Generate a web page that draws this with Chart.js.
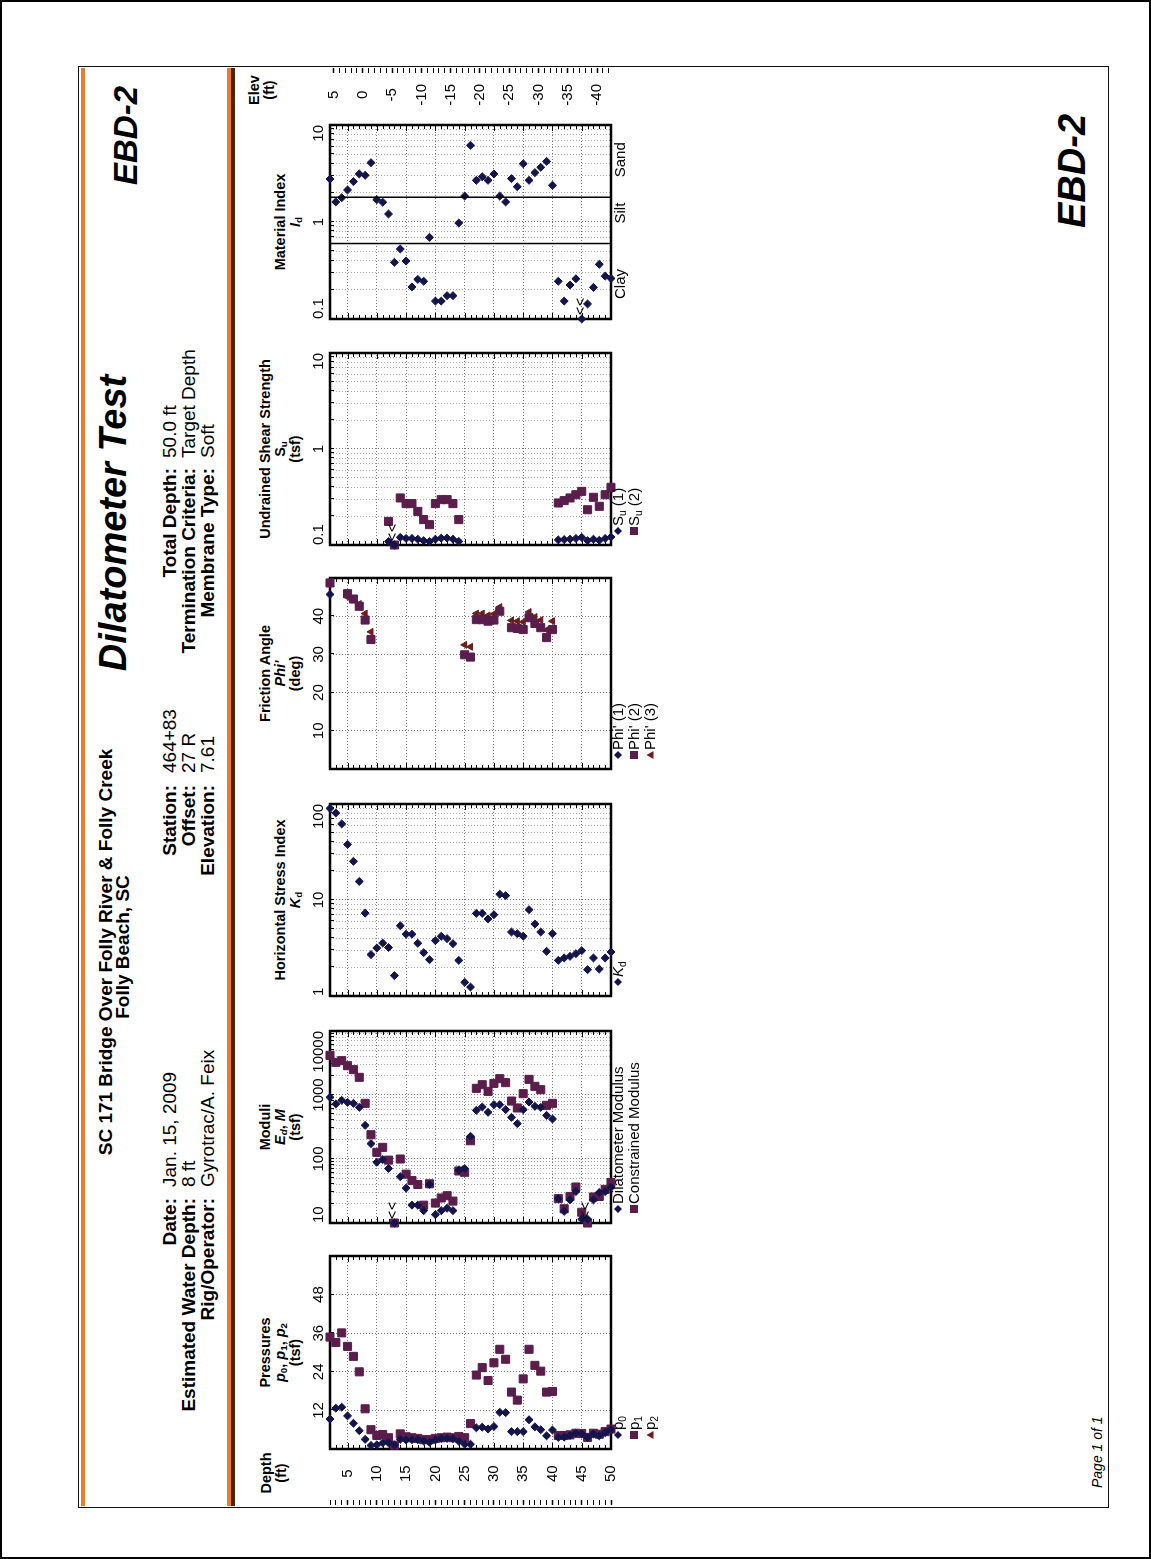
<!DOCTYPE html>
<html lang="en">
<head>
<meta charset="UTF-8">
<meta name="viewport" content="width=device-width, initial-scale=1.0">
<title>Dilatometer Test - EBD-2</title>
<script src="https://cdn.jsdelivr.net/npm/chart.js"></script>
<style>
  html, body { margin: 0; padding: 0; background: #fff; overflow: hidden; }
  body { width: 1151px; height: 1559px; position: relative;
         font-family: "Liberation Sans", Arial, Helvetica, sans-serif; color: #000; }
  /* the log sheet is laid out landscape, then turned a quarter turn like the print */
  #page { position: absolute; left: 0; top: 0; width: 1559px; height: 1151px; box-sizing: border-box;
          border: 2px solid #000; transform-origin: 0 0; transform: translateY(1559px) rotate(-90deg); }
  .t { position: absolute; white-space: nowrap; line-height: 1; }
  .lbl { font-size: 19px; font-weight: bold; text-align: right; width: 300px; }
  .val { font-size: 19px; }
  .ptitle { position: absolute; font-size: 14.5px; font-weight: bold; text-align: center; line-height: 15px; width: 260px; white-space: nowrap; }
  .legend { position: absolute; font-size: 15px; line-height: 16px; }
  .legend .row { position: relative; height: 16px; white-space: nowrap; padding-left: 10px; }
  .legend svg { position: absolute; left: 0; top: 3px; width: 10px; height: 10px; }
  sub { font-size: 0.68em; vertical-align: -0.25em; line-height: 0; }
  canvas { position: absolute; }
</style>
</head>
<body>
<div id="page">
  <!-- frame and coloured bands -->
  <div style="position:absolute;left:49px;top:76px;width:1440px;height:1029px;border:1.5px solid #111;"></div>
  <div style="position:absolute;left:51px;top:79px;width:1438px;height:4px;background:#ee7a30;"></div>
  <div style="position:absolute;left:51px;top:225px;width:1438px;height:4px;background:#ee7a30;"></div>
  <div style="position:absolute;left:51px;top:229px;width:1438px;height:4px;background:#4a2612;"></div>

  <!-- header -->
  <div class="t" style="left:305px;top:94px;width:600px;text-align:center;font-size:19px;font-weight:bold;">SC 171 Bridge Over Folly River &amp; Folly Creek</div>
  <div class="t" style="left:310px;top:111px;width:600px;text-align:center;font-size:19px;font-weight:bold;">Folly Beach, SC</div>

  <div class="t lbl" style="left:59px;top:158px;">Date:</div>
  <div class="t lbl" style="left:59px;top:177px;">Estimated Water Depth:</div>
  <div class="t lbl" style="left:59px;top:196px;">Rig/Operator:</div>
  <div class="t val" style="left:370px;top:158px;">Jan. 15, 2009</div>
  <div class="t val" style="left:370px;top:177px;">8 ft</div>
  <div class="t val" style="left:370px;top:196px;">Gyrotrac/A. Feix</div>

  <div class="t lbl" style="left:472px;top:158px;">Station:</div>
  <div class="t lbl" style="left:472px;top:177px;">Offset:</div>
  <div class="t lbl" style="left:472px;top:196px;">Elevation:</div>
  <div class="t val" style="left:784px;top:158px;">464+83</div>
  <div class="t val" style="left:784px;top:177px;">27 R</div>
  <div class="t val" style="left:784px;top:196px;">7.61</div>

  <div class="t" style="left:734px;top:92px;width:600px;text-align:center;font-size:38px;font-weight:bold;font-style:italic;">Dilatometer Test</div>

  <div class="t lbl" style="left:789px;top:158px;">Total Depth:</div>
  <div class="t lbl" style="left:789px;top:177px;">Termination Criteria:</div>
  <div class="t lbl" style="left:789px;top:196px;">Membrane Type:</div>
  <div class="t val" style="left:1099px;top:158px;">50.0 ft</div>
  <div class="t val" style="left:1099px;top:177px;">Target Depth</div>
  <div class="t val" style="left:1099px;top:196px;">Soft</div>

  <div class="t" style="left:1372px;top:107px;font-size:33px;font-weight:bold;font-style:italic;">EBD-2</div>

  <!-- footer -->
  <div class="t" style="left:69px;top:1088px;font-size:14px;font-style:italic;">Page 1 of 1</div>
  <div class="t" style="left:1329px;top:1051px;font-size:38px;font-weight:bold;font-style:italic;">EBD-2</div>

  <!-- axis titles -->
  <div class="ptitle" style="left:-46px;top:257px;">Depth<br>(ft)</div>
  <div class="ptitle" style="left:1337px;top:245px;">Elev<br>(ft)</div>
</div>

<script>
// ---- readings: one per foot of depth ----
const depth = [2, 3, 4, 5, 6, 7, 8, 9, 10, 11, 12, 13, 14, 15, 16, 17, 18, 19, 20, 21, 22, 23, 24, 25, 26,
               27, 28, 29, 30, 31, 32, 33, 34, 35, 36, 37, 38, 39, 40, 41, 42, 43, 44, 45, 46, 47, 48, 49, 50];

// pressures (tsf)
const p0 = [9.3, 12.7, 13.0, 10.3, 8.0, 5.7, 3.0, 1.1, 1.3, 1.9, 1.9, 1.2, 3.0, 2.8, 2.9, 2.9, 2.5, 2.1, 2.8, 3.3, 3.3, 3.2, 2.4, 1.5, 1.5,
            6.6, 6.8, 6.2, 7.0, 11.4, 11.3, 5.4, 5.4, 5.4, 9.1, 6.9, 6.0, 4.1, 5.9, 3.6, 3.7, 4.2, 4.9, 4.7, 3.6, 4.7, 4.1, 5.1, 6.0];
const p1 = [34.8, 33.1, 36.1, 31.9, 28.8, 24.0, 12.5, 6.0, 4.2, 4.5, 3.5, 1.2, 4.7, 3.8, 3.5, 3.3, 2.9, 2.9, 3.3, 3.5, 3.7, 3.5, 3.9, 3.5, 7.9,
            23.0, 25.3, 21.3, 26.8, 31.0, 27.9, 17.7, 15.2, 21.8, 31.0, 26.0, 24.2, 17.7, 17.9, 4.2, 4.2, 4.4, 4.9, 4.8, 3.6, 4.9, 4.6, 5.4, 6.2];
const p2 = [];   // no closing pressures recorded

// moduli (tsf)
const Ed = [920, 723, 826, 768, 741, 641, 336, 174, 89, 98, 71, 10, 53, 35, 19, 19, 15.6, 40, 13.5, 15.6, 17, 15.6, 67, 71, 226,
            576, 650, 536, 706, 706, 590, 448, 357, 590, 778, 665, 641, 481, 422, 24, 15.2, 23, 31, 11.5, 11.5, 23, 30, 31, 36];
const M  = [4169, 3240, 3440, 2870, 2490, 1890, 741, 240, 127, 152, 96, 10, 100, 58, 46, 40, 19, 41, 20.5, 24.6, 26.7, 22, 65, 62, 193,
            1271, 1450, 1140, 1520, 1800, 1560, 805, 627, 1050, 1757, 1366, 1211, 690, 741, 24, 16.7, 26, 36.5, 14.7, 10, 25.5, 26, 33.6, 43];
const modulusOffScale = [13, 46];

// horizontal stress index
const Kd = [90, 80.6, 62, 38, 25.3, 15.6, 7.3, 2.7, 3.16, 3.56, 3.2, 1.63, 5.4, 4.4, 4.4, 3.54, 2.83, 2.39, 3.77, 4.19, 3.96, 3.51, 2.35, 1.39, 1.24,
            7.26, 7.26, 6.34, 7.03, 11.5, 11.1, 4.64, 4.46, 4.19, 7.93, 5.62, 4.64, 2.92, 4.46, 2.35, 2.49, 2.59, 2.76, 2.97, 1.88, 2.49, 1.91, 2.49, 2.87];

// friction angle (deg), sand layers only
const phiDepth = [2, 5, 6, 7, 8, 9, 25, 26, 27, 28, 29, 30, 31, 33, 34, 35, 36, 37, 38, 39, 40];
const phi1 = [45.7, null, null, null, null, null, null, null, null, null, null, null, null, null, null, null, null, null, null, null, null];
const phi2 = [48.7, 45.9, 44.5, 42.6, 39.0, 33.9, 29.9, 29.3, 39.1, 39.1, 38.7, 39.0, 41.3, 37.0, 36.8, 36.5, 39.6, 38.1, 37.0, 34.4, 36.5];
const phi3 = [null, 45.0, 44.4, 43.2, 40.7, 35.9, 32.5, 32.0, 40.7, 40.7, 40.2, 40.6, 42.4, 38.9, 38.7, 38.5, 41.1, 39.8, 39.0, 36.4, 38.7];

// undrained shear strength (tsf), clay layers only
const suDepth = [12, 13, 14, 15, 16, 17, 18, 19, 20, 21, 22, 23, 24, 41, 42, 43, 44, 45, 46, 47, 48, 49, 50];
const su1 = [0.109, 0.1, 0.120, 0.117, 0.117, 0.115, 0.111, 0.109, 0.115, 0.118, 0.118, 0.115, 0.109,
             0.113, 0.114, 0.115, 0.117, 0.120, 0.111, 0.115, 0.112, 0.117, 0.121];
const su2 = [0.176, 0.1, 0.309, 0.27, 0.27, 0.224, 0.184, 0.163, 0.27, 0.297, 0.297, 0.27, 0.184,
             0.274, 0.29, 0.309, 0.334, 0.362, 0.233, 0.314, 0.253, 0.334, 0.399];
const suOffScale = [13];

// material index
const Id = [2.77, 1.61, 1.78, 2.14, 2.61, 3.13, 3.03, 4.09, 1.70, 1.60, 1.21, 0.384, 0.527, 0.396, 0.214, 0.256, 0.245, 0.695, 0.153, 0.153, 0.174, 0.174, 0.977, 1.85, 6.17,
            2.69, 2.93, 2.69, 3.13, 1.85, 1.61, 2.80, 2.31, 3.99, 2.69, 3.23, 3.66, 4.22, 2.39, 0.245, 0.153, 0.224, 0.26, 0.1, 0.143, 0.212, 0.366, 0.277, 0.262];
const idOffScale = [45];
const soilBounds = [0.6, 1.8];
const soilZones = [{ from: 0.1, name: 'Clay' }, { from: 0.6, name: 'Silt' }, { from: 1.8, name: 'Sand' }];

// axes
const depthRange = [2, 50];
const groundElev = 7.61;
const depthGrid = [5, 10, 15, 20, 25, 30, 35, 40, 45];
const pressureTicks = [0, 12, 24, 36, 48, 60];
const phiTicks = [0, 10, 20, 30, 40, 50];

// ---- layout ----
const NAVY = '#14144c', PLUM = '#5a1d4c', RUST = '#6e1d1d';
const PLOT_TOP = 328, PLOT_BOTTOM = 609, PAD = 10, AXIS_H = 22;
const page = document.getElementById('page');

Chart.defaults.font.family = '"Liberation Sans", Arial, sans-serif';
Chart.defaults.font.size = 15;
Chart.defaults.color = '#000';

function isDecade(v) { const l = Math.log10(v); return Math.abs(l - Math.round(l)) < 1e-9; }
function logTicks(lo, hi) {
  const out = [];
  for (let e = Math.round(Math.log10(lo)); e < Math.round(Math.log10(hi)); e++)
    for (let m = 1; m < 10; m++) out.push(+(m * Math.pow(10, e)).toPrecision(3));
  out.push(hi);
  return out;
}
function range(a, b) { const r = []; for (let i = a; i <= b; i++) r.push(i); return r; }

function series(label, values, depths, style, color, r) {
  return {
    label, pointStyle: style, pointRadius: r, backgroundColor: color, borderColor: color, borderWidth: 1,
    clip: false, showLine: false,
    data: depths.map((d, i) => values[i] == null ? null : { x: values[i], y: d }).filter(Boolean)
  };
}

function makeCanvas(left, top, w, h) {
  const c = document.createElement('canvas');
  c.width = w; c.height = h;
  c.style.left = left + 'px'; c.style.top = top + 'px';
  c.style.width = w + 'px'; c.style.height = h + 'px';
  page.appendChild(c);
  return c;
}

// plot frame, inward ticks, off-scale marks and soil zone names
const framePlugin = {
  id: 'frame',
  beforeDatasetsDraw(chart, args, opts) {
    const { ctx, chartArea: a, scales: { x, y } } = chart;
    ctx.save();
    ctx.strokeStyle = '#000';
    ctx.lineWidth = 1;
    ctx.beginPath();
    range(depthRange[0], depthRange[1]).forEach(d => {
      const py = Math.round(y.getPixelForValue(d)) + 0.5;
      const len = d % 5 === 0 ? 6 : 4;
      ctx.moveTo(a.left, py); ctx.lineTo(a.left + len, py);
      ctx.moveTo(a.right, py); ctx.lineTo(a.right - len, py);
    });
    x.ticks.forEach(t => {
      const px = Math.round(x.getPixelForValue(t.value)) + 0.5;
      ctx.moveTo(px, a.top); ctx.lineTo(px, a.top + 4);
    });
    ctx.stroke();
    ctx.lineWidth = 2.5;
    ctx.strokeRect(a.left, a.top, a.right - a.left, a.bottom - a.top);
    ctx.restore();
  },
  afterDatasetsDraw(chart, args, opts) {
    const { ctx, chartArea: a, scales: { x, y } } = chart;
    ctx.save();
    ctx.fillStyle = '#000';
    ctx.font = '14px "Liberation Sans", Arial, sans-serif';
    ctx.textAlign = 'center';
    ctx.textBaseline = 'middle';
    (opts.offScale || []).forEach(d => {
      const py = y.getPixelForValue(d) - 1;
      ctx.fillText('<', a.left + 8, py);
      ctx.fillText('<', a.left + 17, py);
    });
    ctx.font = '15px "Liberation Sans", Arial, sans-serif';
    ctx.textAlign = 'left';
    ctx.textBaseline = 'top';
    (opts.zones || []).forEach(z => {
      ctx.fillText(z.name, x.getPixelForValue(z.from) + 20, a.bottom + 2);
    });
    ctx.restore();
  }
};

function panel(p) {
  const bottomPad = p.bottomPad || PAD;
  const w = p.right - p.left + 2 * PAD;
  const h = AXIS_H + (PLOT_BOTTOM - PLOT_TOP) + bottomPad;
  const isLog = p.scale === 'logarithmic';
  const canvas = makeCanvas(p.left - PAD, PLOT_TOP - AXIS_H, w, h);
  new Chart(canvas, {
    type: 'scatter',
    data: { datasets: p.datasets },
    options: {
      responsive: false, animation: false, events: [],
      layout: { autoPadding: false, padding: { left: PAD, right: PAD, top: 0, bottom: bottomPad } },
      plugins: { legend: { display: false }, tooltip: { enabled: false }, frame: p.frame || {} },
      scales: {
        x: {
          type: p.scale, position: 'top', min: p.min, max: p.max,
          afterBuildTicks: s => { s.ticks = p.ticks.map(v => ({ value: v })); },
          afterFit: s => { s.height = AXIS_H; s.paddingLeft = 0; s.paddingRight = 0; },
          ticks: {
            autoSkip: false, maxRotation: 0, align: isLog ? 'inner' : 'center', padding: 2,
            callback: v => isLog ? (isDecade(v) ? String(v) : '') : (v > p.min && v < p.max ? String(v) : '')
          },
          grid: { drawTicks: false, lineWidth: 1,
                  color: c => (!isLog || (c.tick && isDecade(c.tick.value))) ? '#7a7a7a' : '#a8a8a8' },
          border: { display: false, dash: [1, 2] }
        },
        y: {
          type: 'linear', min: depthRange[0], max: depthRange[1], reverse: true,
          afterBuildTicks: s => { s.ticks = depthGrid.map(v => ({ value: v })); },
          afterFit: s => { s.width = 0; s.paddingTop = 0; s.paddingBottom = 0; },
          ticks: { display: false },
          grid: { drawTicks: false, color: '#7a7a7a', lineWidth: 1 },
          border: { display: false, dash: [1, 2] }
        }
      }
    },
    plugins: [framePlugin]
  });

  // titles above the plot
  const t = document.createElement('div');
  t.className = 'ptitle';
  const cx = (p.left + p.right) / 2;
  t.style.left = (cx - 130) + 'px';
  t.style.top = (301 - 15 * p.title.length) + 'px';
  t.innerHTML = p.title.join('<br>');
  page.appendChild(t);

  // legend below the plot
  if (p.legend) {
    const lg = document.createElement('div');
    lg.className = 'legend';
    lg.style.left = (p.left + 9) + 'px';
    lg.style.top = '608px';
    lg.innerHTML = p.legend.map(([html, shape, color]) => `<div class="row">${symbol(shape, color)}${html}</div>`).join('');
    page.appendChild(lg);
  }
}

function symbol(shape, color) {
  let s = '';
  if (shape === 'rectRot') s = `<polygon points="5,1 9,5 5,9 1,5" fill="${color}"/>`;
  if (shape === 'rect') s = `<rect x="1" y="1" width="8" height="8" fill="${color}"/>`;
  if (shape === 'triangle') s = `<polygon points="5,1.5 9,8.5 1,8.5" fill="${color}"/>`;
  return `<svg viewBox="0 0 10 10">${s}</svg>`;
}

// ---- the six panels ----
panel({
  left: 108, right: 301, scale: 'linear', min: 0, max: 60, ticks: pressureTicks,
  title: ['Pressures', '<i>p</i><sub>0</sub>, <i>p</i><sub>1</sub>, <i>p</i><sub>2</sub>', '(tsf)'],
  datasets: [series('p0', p0, depth, 'rectRot', NAVY, 4), series('p1', p1, depth, 'rect', PLUM, 5.7),
             series('p2', p2, depth, 'triangle', RUST, 4)],
  legend: [['p<sub>0</sub>', 'rectRot', NAVY], ['p<sub>1</sub>', 'rect', PLUM], ['p<sub>2</sub>', 'triangle', RUST]]
});

panel({
  left: 334, right: 526, scale: 'logarithmic', min: 10, max: 10000, ticks: logTicks(10, 10000),
  title: ['Moduli', '<i>E<sub>d</sub></i>, <i>M</i>', '(tsf)'],
  datasets: [series('Dilatometer Modulus', Ed, depth, 'rectRot', NAVY, 4),
             series('Constrained Modulus', M, depth, 'rect', PLUM, 5.7)],
  frame: { offScale: modulusOffScale },
  legend: [['Dilatometer Modulus', 'rectRot', NAVY], ['Constrained Modulus', 'rect', PLUM]]
});

panel({
  left: 561, right: 753, scale: 'logarithmic', min: 1, max: 100, ticks: logTicks(1, 100),
  title: ['Horizontal Stress Index', '<i>K</i><sub>d</sub>'],
  datasets: [series('Kd', Kd, depth, 'rectRot', NAVY, 4)],
  legend: [['<i>K</i><sub>d</sub>', 'rectRot', NAVY]]
});

panel({
  left: 788, right: 979, scale: 'linear', min: 0, max: 50, ticks: phiTicks,
  title: ['Friction Angle', "<i>Phi'</i>", '(deg)'],
  datasets: [series("Phi' (1)", phi1, phiDepth, 'rectRot', NAVY, 4),
             series("Phi' (2)", phi2, phiDepth, 'rect', PLUM, 5.7),
             series("Phi' (3)", phi3, phiDepth, 'triangle', RUST, 4)],
  legend: [["Phi' (1)", 'rectRot', NAVY], ["Phi' (2)", 'rect', PLUM], ["Phi' (3)", 'triangle', RUST]]
});

panel({
  left: 1012, right: 1204, scale: 'logarithmic', min: 0.1, max: 10, ticks: logTicks(0.1, 10),
  title: ['Undrained Shear Strength', 'S<sub>u</sub>', '(tsf)'],
  datasets: [series('Su (1)', su1, suDepth, 'rectRot', NAVY, 4), series('Su (2)', su2, suDepth, 'rect', PLUM, 5.7)],
  frame: { offScale: suOffScale },
  legend: [['S<sub>u</sub> (1)', 'rectRot', NAVY], ['S<sub>u</sub> (2)', 'rect', PLUM]]
});

panel({
  left: 1238, right: 1432, scale: 'logarithmic', min: 0.1, max: 10, ticks: logTicks(0.1, 10), bottomPad: 30,
  title: ['Material Index', '<i>I</i><sub>d</sub>'],
  datasets: [
    ...soilBounds.map(b => ({ data: [{ x: b, y: depthRange[0] }, { x: b, y: depthRange[1] }], showLine: true,
                             borderColor: '#000', borderWidth: 1.5, pointRadius: 0 })),
    series('Id', Id, depth, 'rectRot', NAVY, 4)
  ],
  frame: { offScale: idOffScale, zones: soilZones }
});

// ---- depth and elevation scales on the outer edges ----
function sideAxis(left, width, cfg) {
  const h = (PLOT_BOTTOM - PLOT_TOP) + 16;
  const canvas = makeCanvas(left, PLOT_TOP - 8, width, h);
  new Chart(canvas, {
    type: 'scatter',
    data: { datasets: [] },
    options: {
      responsive: false, animation: false, events: [],
      layout: { autoPadding: false, padding: { top: 8, bottom: 8, left: 0, right: 0 } },
      plugins: { legend: { display: false }, tooltip: { enabled: false } },
      scales: {
        x: { display: false },
        y: Object.assign({
          type: 'linear',
          afterFit: s => { s.width = width - 1; s.paddingTop = 0; s.paddingBottom = 0; },
          ticks: { autoSkip: false, crossAlign: 'center', padding: cfg.padding,
                   callback: v => v % 5 === 0 ? String(v) : '' },
          grid: { drawOnChartArea: false, drawTicks: true, tickLength: 5, tickColor: '#000',
                  tickWidth: c => c.tick && c.tick.value % 5 === 0 ? 1.5 : 1 },
          border: { display: false }
        }, cfg.axis)
      }
    }
  });
}

sideAxis(51, 60, {
  padding: 18,
  axis: { position: 'right', min: depthRange[0], max: depthRange[1], reverse: true,
          afterBuildTicks: s => { s.ticks = range(depthRange[0], depthRange[1]).map(v => ({ value: v })); } }
});

sideAxis(1440, 50, {
  padding: 11,
  axis: { position: 'left', min: groundElev - depthRange[1], max: groundElev - depthRange[0],
          afterBuildTicks: s => { s.ticks = range(Math.ceil(groundElev - depthRange[1]), Math.floor(groundElev - depthRange[0])).map(v => ({ value: v })); } }
});
</script>
</body>
</html>
